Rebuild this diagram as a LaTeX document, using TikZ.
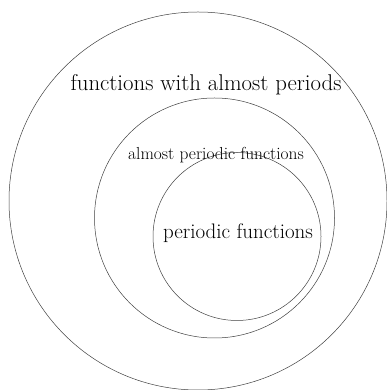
\documentclass[tikz,border=0pt]{standalone}
\begin{document}
\begin{tikzpicture}[x=1pt,y=1pt,
  ring/.style={draw=black!75, line width=0.5pt},
  lbl/.style={inner sep=0pt, text=black}]
\useasboundingbox (0,0) rectangle (386,390);
\draw[ring] (198,189) circle[radius=189];
\draw[ring] (214.5,172) circle[radius=120];
\draw[ring] (237,153.5) circle[radius=84];
\node[lbl, font=\fontsize{22.8}{27}\selectfont] (outer) at (206,305) {functions with almost periods};
\node[lbl, font=\fontsize{17.4}{21}\selectfont] (mid) at (216,234.5) {almost periodic functions};
\node[lbl, font=\fontsize{21}{25}\selectfont] (inner) at (238,156.5) {periodic functions};
\end{tikzpicture}
\end{document}
